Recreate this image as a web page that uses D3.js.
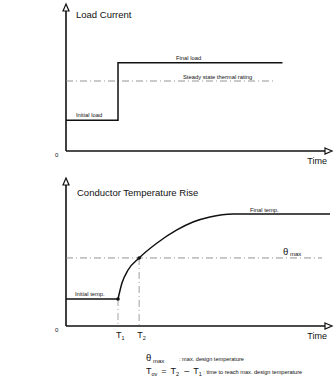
<!DOCTYPE html>
<html>
<head>
<meta charset="utf-8">
<script src="https://cdn.jsdelivr.net/npm/d3@7"></script>
<style>
  body { margin: 0; background: #fff; }
  text { font-family: "Liberation Sans", Arial, sans-serif; fill: #111; }
</style>
</head>
<body>
<div id="root"></div>
<script>
// Time axis runs 0..10 (arbitrary units), values 0..10
const T1 = 1.97
const T2 = 2.77

// Load current step
const loadTimes = [0, T1, T1, 8.2]
const loadValues = [2.2, 2.2, 6.3, 6.3]
const steadyRating = 5.0
const steadyEnd = 7.9

// Conductor temperature rise
const tempTimes = [0, 1.97, 2.12, 2.35, 2.77, 3.45, 4.2, 4.81, 5.45, 6.33, 10]
const tempValues = [1.93, 1.93, 3.07, 4.0, 4.86, 5.93, 6.86, 7.43, 7.79, 8.0, 8.0]
const thetaMax = 4.86
const thetaEnd = 9.7

const width = 335
const height = 388

const svg = d3.select("#root").append("svg")
  .attr("width", width)
  .attr("height", height)

const x = d3.scaleLinear().domain([0, 10]).range([66, 330])
const yLoad = d3.scaleLinear().domain([0, 10]).range([151, 11])
const yTemp = d3.scaleLinear().domain([0, 10]).range([326, 186])

const ink = "#111"
const dashDot = "7,3,1,3"

// draw one panel frame: axes with open arrowheads
function frame(y, top) {
  const g = svg.append("g")
  g.append("line")
    .attr("x1", x(0)).attr("x2", x(0))
    .attr("y1", y(0)).attr("y2", top + 6)
    .attr("stroke", ink).attr("stroke-width", 1.6)
  g.append("line")
    .attr("x1", x(0)).attr("x2", 326)
    .attr("y1", y(0)).attr("y2", y(0))
    .attr("stroke", ink).attr("stroke-width", 1.6)
  // up arrow
  g.append("path")
    .attr("d", `M${x(0) - 3},${top + 7} L${x(0)},${top} L${x(0) + 3},${top + 7} Z`)
    .attr("fill", "#fff").attr("stroke", ink).attr("stroke-width", 1.2)
  // right arrow
  g.append("path")
    .attr("d", `M325,${y(0) - 3} L332,${y(0)} L325,${y(0) + 3} Z`)
    .attr("fill", "#fff").attr("stroke", ink).attr("stroke-width", 1.2)
  g.append("text").attr("x", x(0) - 11).attr("y", y(0) + 6)
    .attr("font-size", 6).text("0")
  g.append("text").attr("x", 327).attr("y", y(0) + 13)
    .attr("text-anchor", "end").attr("font-size", 9).text("Time")
  return g
}

// ---- Top panel: load current ----
frame(yLoad, 4)
svg.append("text").attr("x", 76).attr("y", 18)
  .attr("font-size", 9.5).text("Load Current")

svg.append("line")
  .attr("x1", x(0)).attr("x2", x(steadyEnd))
  .attr("y1", yLoad(steadyRating)).attr("y2", yLoad(steadyRating))
  .attr("stroke", "#888").attr("stroke-width", 0.9)
  .attr("stroke-dasharray", dashDot)

const loadLine = d3.line()
  .x(d => x(d[0]))
  .y(d => yLoad(d[1]))

svg.append("path")
  .datum(loadTimes.map((t, i) => [t, loadValues[i]]))
  .attr("fill", "none").attr("stroke", ink).attr("stroke-width", 1.5)
  .attr("d", loadLine)

svg.append("text").attr("x", 76).attr("y", 117)
  .attr("font-size", 5.8).text("Initial load")
svg.append("text").attr("x", 176).attr("y", 60)
  .attr("font-size", 5.8).text("Final load")
svg.append("text").attr("x", 183).attr("y", 79)
  .attr("font-size", 5.8).text("Steady state thermal rating")

// ---- Bottom panel: conductor temperature ----
frame(yTemp, 178)
svg.append("text").attr("x", 77).attr("y", 196)
  .attr("font-size", 9.5).text("Conductor Temperature Rise")

svg.append("line")
  .attr("x1", x(0)).attr("x2", x(thetaEnd))
  .attr("y1", yTemp(thetaMax)).attr("y2", yTemp(thetaMax))
  .attr("stroke", "#888").attr("stroke-width", 0.9)
  .attr("stroke-dasharray", dashDot)

// vertical markers at T1, T2
svg.append("line")
  .attr("x1", x(T1)).attr("x2", x(T1))
  .attr("y1", yTemp(tempValues[1])).attr("y2", yTemp(0))
  .attr("stroke", "#888").attr("stroke-width", 0.8)
  .attr("stroke-dasharray", dashDot)
svg.append("line")
  .attr("x1", x(T2)).attr("x2", x(T2))
  .attr("y1", yTemp(thetaMax)).attr("y2", yTemp(0))
  .attr("stroke", "#888").attr("stroke-width", 0.8)
  .attr("stroke-dasharray", dashDot)

const tempLine = d3.line()
  .x(d => x(d[0]))
  .y(d => yTemp(d[1]))
  .curve(d3.curveMonotoneX)

svg.append("path")
  .datum(tempTimes.slice(0, 2).map((t, i) => [t, tempValues[i]]))
  .attr("fill", "none").attr("stroke", ink).attr("stroke-width", 1.5)
  .attr("d", d3.line().x(d => x(d[0])).y(d => yTemp(d[1])))
svg.append("path")
  .datum(tempTimes.slice(1).map((t, i) => [t, tempValues[i + 1]]))
  .attr("fill", "none").attr("stroke", ink).attr("stroke-width", 1.5)
  .attr("d", tempLine)

svg.selectAll(".dot")
  .data([[T1, tempValues[1]], [T2, thetaMax]])
  .enter().append("circle")
  .attr("cx", d => x(d[0])).attr("cy", d => yTemp(d[1]))
  .attr("r", 1.8).attr("fill", ink)

svg.append("text").attr("x", 75).attr("y", 296)
  .attr("font-size", 5.8).text("Initial temp.")
svg.append("text").attr("x", 250).attr("y", 212)
  .attr("font-size", 5.8).text("Final temp.")

const thLbl = svg.append("text").attr("x", 283).attr("y", 255).attr("font-size", 9.5)
thLbl.append("tspan").text("θ")
thLbl.append("tspan").attr("dy", 1).attr("font-size", 6).text(" max")

// T1, T2 tick labels
;[[T1, "1"], [T2, "2"]].forEach(([t, s]) => {
  const l = svg.append("text").attr("x", x(t) - 2).attr("y", 338).attr("font-size", 9)
  l.append("tspan").text("T")
  l.append("tspan").attr("dy", 2).attr("font-size", 5.5).text(s)
})

// legend notes
const n1 = svg.append("text").attr("x", 146).attr("y", 361).attr("font-size", 9.5)
n1.append("tspan").text("θ")
n1.append("tspan").attr("dy", 1.5).attr("font-size", 6).text(" max")
svg.append("text").attr("x", 179).attr("y", 361).attr("font-size", 5.6).text(": max. design temperature")

const n2 = svg.append("text").attr("x", 146).attr("y", 374).attr("font-size", 9)
n2.append("tspan").text("T")
n2.append("tspan").attr("dy", 2).attr("font-size", 5.5).text("ov")
n2.append("tspan").attr("dy", -2).attr("dx", 4).text("=")
n2.append("tspan").attr("dx", 4).text("T")
n2.append("tspan").attr("dy", 2).attr("font-size", 5.5).text("2")
n2.append("tspan").attr("dy", -2).attr("dx", 5).text("–")
n2.append("tspan").attr("dx", 4).text("T")
n2.append("tspan").attr("dy", 2).attr("font-size", 5.5).text("1")
n2.append("tspan").attr("dy", -2).attr("font-size", 5.6).text(" : time to reach max. design temperature")
</script>
</body>
</html>
